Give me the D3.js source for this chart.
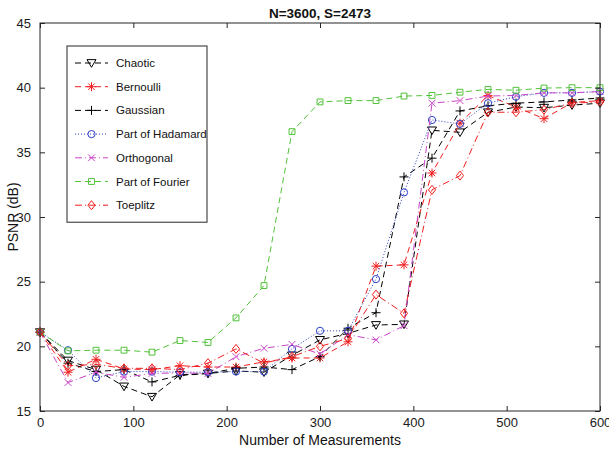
<!DOCTYPE html>
<html>
<head>
<meta charset="utf-8">
<script src="https://cdn.jsdelivr.net/npm/d3@7"></script>
<style>
  html, body { margin: 0; padding: 0; background: #fff; }
  svg { display: block; font-family: "Liberation Sans", Arial, Helvetica, sans-serif; }
</style>
</head>
<body>
<svg id="chart" width="609" height="451"></svg>
<script>
// Number of measurements (x values)
const measurements = [0, 30, 60, 90, 120, 150, 180, 210, 240, 270, 300, 330, 360, 390, 420, 450, 480, 510, 540, 570, 600];

// PSNR (dB) for each measurement matrix
const chaotic    = [21.1, 18.9, 18.2, 16.9, 16.1, 17.8, 17.9, 18.1, 18.0, 19.3, 20.5, 21.0, 21.65, 21.7, 36.7, 36.55, 38.1, 38.5, 38.45, 38.65, 38.8];
const bernoulli  = [21.1, 18.0, 19.0, 18.25, 18.2, 18.5, 18.4, 18.4, 18.8, 19.1, 19.1, 20.35, 26.2, 26.3, 33.4, 37.25, 39.4, 38.5, 37.6, 38.85, 39.0];
const gaussian   = [21.1, 18.7, 18.05, 18.2, 17.25, 17.75, 17.9, 18.3, 18.4, 18.2, 19.2, 21.4, 22.6, 33.1, 34.55, 38.2, 38.6, 38.8, 38.9, 39.05, 39.2];
const hadamard   = [21.1, 19.7, 17.55, 18.05, 18.05, 18.0, 18.0, 18.05, 18.05, 19.8, 21.2, 21.2, 25.2, 31.9, 37.5, 37.2, 38.8, 39.3, 39.6, 39.6, 39.7];
const orthogonal = [21.1, 17.2, 18.0, 17.6, 17.9, 17.95, 17.9, 19.2, 19.85, 20.15, 19.4, 20.9, 20.5, 21.6, 38.8, 39.0, 39.35, 39.4, 39.6, 39.6, 39.7];
const fourier    = [21.1, 19.65, 19.7, 19.7, 19.55, 20.45, 20.3, 22.2, 24.7, 36.6, 38.9, 39.0, 39.0, 39.35, 39.4, 39.65, 39.87, 39.8, 39.97, 40.0, 40.0];
const toeplitz   = [21.1, 18.5, 18.6, 18.3, 18.3, 18.2, 18.7, 19.8, 18.7, 19.2, 20.0, 20.6, 24.0, 22.55, 32.1, 33.2, 38.1, 38.1, 38.3, 38.8, 38.9];

const seriesNames = ["Chaotic", "Bernoulli", "Gaussian", "Part of Hadamard", "Orthogonal", "Part of Fourier", "Toeplitz"];
const seriesValues = [chaotic, bernoulli, gaussian, hadamard, orthogonal, fourier, toeplitz];

const xTicks = [0, 100, 200, 300, 400, 500, 600];
const yTicks = [15, 20, 25, 30, 35, 40, 45];

const titleText = "N=3600, S=2473";
const xLabel = "Number of Measurements";
const yLabel = "PSNR (dB)";

// Line/marker styling per series
const styles = [
  { color: "#000000", dash: "6,4",     marker: "triangleDown" },
  { color: "#f01e1e", dash: "6,4",     marker: "asterisk" },
  { color: "#000000", dash: "6,4",     marker: "plus" },
  { color: "#2b3fc4", dash: "1,2",     marker: "circle" },
  { color: "#c845c8", dash: "7,3,1,3", marker: "cross" },
  { color: "#52c23a", dash: "6,4",     marker: "square" },
  { color: "#f01e1e", dash: "7,3,1,3", marker: "diamond" }
];

const svg = d3.select("#chart");
const plotLeft = 40, plotRight = 600, plotTop = 23, plotBottom = 411;

const x = d3.scaleLinear().domain([0, 600]).range([plotLeft, plotRight]);
const y = d3.scaleLinear().domain([15, 45]).range([plotBottom, plotTop]);

// Marker path builder, centred at (0,0)
function markerPath(type, s) {
  const p = d3.path();
  switch (type) {
    case "triangleDown":
      p.moveTo(-s, -s * 0.75); p.lineTo(s, -s * 0.75); p.lineTo(0, s * 0.95); p.closePath(); break;
    case "asterisk":
      p.moveTo(-s, 0); p.lineTo(s, 0);
      p.moveTo(0, -s); p.lineTo(0, s);
      p.moveTo(-s * 0.72, -s * 0.72); p.lineTo(s * 0.72, s * 0.72);
      p.moveTo(-s * 0.72, s * 0.72); p.lineTo(s * 0.72, -s * 0.72); break;
    case "plus":
      p.moveTo(-s, 0); p.lineTo(s, 0); p.moveTo(0, -s); p.lineTo(0, s); break;
    case "cross":
      p.moveTo(-s * 0.75, -s * 0.75); p.lineTo(s * 0.75, s * 0.75);
      p.moveTo(-s * 0.75, s * 0.75); p.lineTo(s * 0.75, -s * 0.75); break;
    case "circle":
      p.arc(0, 0, s * 0.8, 0, 2 * Math.PI); break;
    case "square":
      p.rect(-s * 0.65, -s * 0.65, s * 1.3, s * 1.3); break;
    case "diamond":
      p.moveTo(0, -s); p.lineTo(s * 0.8, 0); p.lineTo(0, s); p.lineTo(-s * 0.8, 0); p.closePath(); break;
  }
  return p.toString();
}

const markerSize = 4.5;

// Series
const plot = svg.append("g");
const line = d3.line().x((d, i) => x(measurements[i])).y(d => y(d));
seriesValues.forEach((vals, k) => {
  const st = styles[k];
  const g = plot.append("g");
  g.append("path").datum(vals)
    .attr("d", line)
    .attr("fill", "none")
    .attr("stroke", st.color)
    .attr("stroke-width", 1)
    .attr("stroke-dasharray", st.dash);
  g.selectAll("path.mk").data(vals).enter().append("path")
    .attr("class", "mk")
    .attr("transform", (d, i) => `translate(${x(measurements[i])},${y(d)})`)
    .attr("d", markerPath(st.marker, markerSize))
    .attr("fill", "none")
    .attr("stroke", st.color)
    .attr("stroke-width", 1);
});

// Axes box with inward ticks on all sides
const axisColor = "#262626";
const tickLen = 5;
const tickFont = 13;
svg.append("g")
  .attr("transform", `translate(0,${plotBottom})`)
  .call(d3.axisBottom(x).tickValues(xTicks).tickSizeInner(-tickLen).tickSizeOuter(0).tickPadding(7))
  .call(g => g.select(".domain").remove())
  .call(g => g.selectAll("text").attr("font-size", tickFont).attr("fill", "#1a1a1a").attr("font-family", "Liberation Sans, Arial, sans-serif"))
  .call(g => g.selectAll("line").attr("stroke", axisColor));
svg.append("g")
  .attr("transform", `translate(0,${plotTop})`)
  .call(d3.axisTop(x).tickValues(xTicks).tickSizeInner(-tickLen).tickSizeOuter(0).tickFormat(""))
  .call(g => g.select(".domain").remove())
  .call(g => g.selectAll("line").attr("stroke", axisColor));
svg.append("g")
  .attr("transform", `translate(${plotLeft},0)`)
  .call(d3.axisLeft(y).tickValues(yTicks).tickSizeInner(-tickLen).tickSizeOuter(0).tickPadding(9))
  .call(g => g.select(".domain").remove())
  .call(g => g.selectAll("text").attr("font-size", tickFont).attr("fill", "#1a1a1a").attr("font-family", "Liberation Sans, Arial, sans-serif"))
  .call(g => g.selectAll("line").attr("stroke", axisColor));
svg.append("g")
  .attr("transform", `translate(${plotRight},0)`)
  .call(d3.axisRight(y).tickValues(yTicks).tickSizeInner(-tickLen).tickSizeOuter(0).tickFormat(""))
  .call(g => g.select(".domain").remove())
  .call(g => g.selectAll("line").attr("stroke", axisColor));
svg.append("rect").attr("x", plotLeft).attr("y", plotTop)
  .attr("width", plotRight - plotLeft).attr("height", plotBottom - plotTop)
  .attr("fill", "none").attr("stroke", axisColor).attr("stroke-width", 1);

// Title and axis labels
svg.append("text").attr("x", (plotLeft + plotRight) / 2).attr("y", 18)
  .attr("text-anchor", "middle").attr("font-size", 13.5).attr("font-weight", "bold")
  .attr("fill", "#111").text(titleText);
svg.append("text").attr("x", (plotLeft + plotRight) / 2).attr("y", 445)
  .attr("text-anchor", "middle").attr("font-size", 14).attr("fill", "#111").text(xLabel);
svg.append("text").attr("transform", `translate(18,${(plotTop + plotBottom) / 2}) rotate(-90)`)
  .attr("text-anchor", "middle").attr("font-size", 14).attr("fill", "#111").text(yLabel);

// Legend
const lg = svg.append("g");
const lgX = 67, lgY = 46, lgW = 140, rowH = 23.7, firstRow = 63;
lg.append("rect").attr("x", lgX).attr("y", lgY).attr("width", lgW)
  .attr("height", firstRow - lgY + rowH * (seriesNames.length - 1) + 17)
  .attr("fill", "#fff").attr("stroke", axisColor).attr("stroke-width", 1);
seriesNames.forEach((name, k) => {
  const st = styles[k];
  const cy = firstRow + k * rowH;
  lg.append("line").attr("x1", 75).attr("x2", 108).attr("y1", cy).attr("y2", cy)
    .attr("stroke", st.color).attr("stroke-width", 1).attr("stroke-dasharray", st.dash);
  lg.append("path").attr("transform", `translate(91.5,${cy})`)
    .attr("d", markerPath(st.marker, markerSize))
    .attr("fill", "none").attr("stroke", st.color).attr("stroke-width", 1);
  lg.append("text").attr("x", 116).attr("y", cy + 4)
    .attr("font-size", 11.5).attr("fill", "#111").text(name);
});
</script>
</body>
</html>
